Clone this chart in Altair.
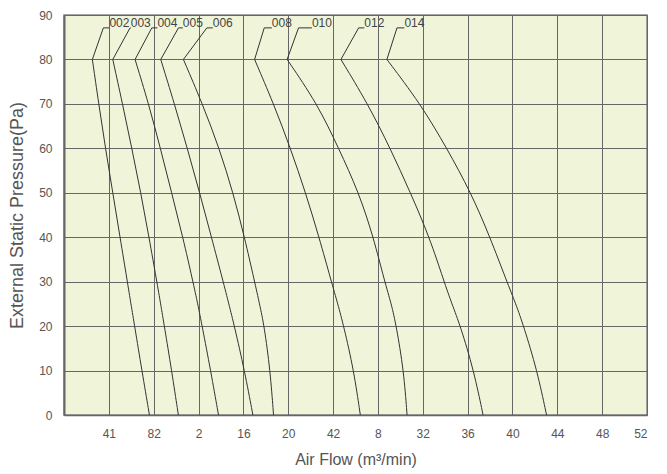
import altair as alt
import pandas as pd

# Model names
models = ["002", "003", "004", "005", "006", "008", "010", "012", "014"]

# Pressure levels (Pa) at which the air flow was read
pressure = [0, 10, 20, 25, 30, 40, 50, 60, 70, 80]

# Air flow (m3/min) per model at each pressure level above
flow = {
    "002": [7.62, 6.95, 6.30, 5.97, 5.65, 5.00, 4.35, 3.70, 3.10, 2.53],
    "003": [10.20, 9.60, 8.95, 8.62, 8.28, 7.58, 6.85, 6.05, 5.22, 4.35],
    "004": [13.78, 13.08, 12.32, 11.93, 11.50, 10.60, 9.60, 8.60, 7.55, 6.34],
    "005": [16.85, 16.10, 15.20, 14.70, 14.20, 13.15, 12.10, 11.00, 9.85, 8.63],
    "006": [18.69, 18.39, 17.86, 17.44, 17.00, 16.10, 15.08, 13.85, 12.35, 10.65],
    "008": [26.43, 25.85, 24.95, 24.42, 23.85, 22.75, 21.55, 20.20, 18.70, 17.00],
    "010": [30.60, 30.30, 29.64, 29.20, 28.60, 27.60, 26.30, 24.50, 22.60, 19.90],
    "012": [37.38, 36.55, 35.36, 34.60, 33.90, 32.60, 30.90, 29.10, 27.10, 24.70],
    "014": [43.04, 42.20, 41.00, 40.30, 39.50, 38.00, 36.30, 34.15, 31.80, 28.80],
}

# Label leader lines: from the 80 Pa point up to the label
leader_top_x = [3.51, 5.89, 7.83, 10.21, 12.74, 17.86, 20.92, 26.28, 29.70]
label_x = [4.05, 5.95, 8.33, 10.60, 13.27, 18.54, 22.11, 26.79, 30.36]
label_y = 87.1

# X axis tick labels (as printed) at 4, 8, ..., 52
x_tick_values = [4, 8, 12, 16, 20, 24, 28, 32, 36, 40, 44, 48, 52]
x_tick_labels = ["41", "82", "2", "16", "20", "42", "8", "32", "36", "40", "44", "48", "52"]

rows = []
for m in models:
    for p, f in zip(pressure, flow[m]):
        rows.append({"model": m, "pressure": p, "flow": f})
curves = pd.DataFrame(rows)

lrows = []
for i, m in enumerate(models):
    pts = [(flow[m][-1], 80), (leader_top_x[i], label_y), (label_x[i], label_y)]
    for k, (fx, py) in enumerate(pts):
        lrows.append({"model": m, "k": k, "flow": fx, "pressure": py})
leaders = pd.DataFrame(lrows)

labels = pd.DataFrame({"model": models, "flow": label_x, "pressure": [label_y] * len(models)})

FONT = "Liberation Sans"
label_arr = "[" + ",".join("'%s'" % s for s in x_tick_labels) + "]"

xscale = alt.Scale(domain=[0, 52], nice=False, zero=False)
yscale = alt.Scale(domain=[0, 90], nice=False)

x_axis = alt.Axis(
    values=x_tick_values,
    labelExpr=label_arr + "[datum.value/4-1]",
    title="Air Flow (m³/min)",
    grid=True, gridColor="#666666", gridWidth=1,
    ticks=False, labelPadding=13, titlePadding=12,
    labelFont=FONT, labelFontSize=12, labelColor="#555555",
    titleFont=FONT, titleFontSize=16, titleFontWeight="normal", titleColor="#555555",
    domainColor="#666666", domainWidth=1.5,
)
y_axis = alt.Axis(
    values=list(range(0, 95, 5)),
    labelExpr="datum.value % 10 == 0 ? datum.label : ''",
    title="External Static Pressure(Pa)",
    grid=True, gridColor="#666666", gridWidth=1,
    ticks=False, labelPadding=12, titlePadding=12,
    labelFont=FONT, labelFontSize=12, labelColor="#555555",
    titleFont=FONT, titleFontSize=18, titleFontWeight="normal", titleColor="#555555",
    domainColor="#666666", domainWidth=2,
)

base_curves = alt.Chart(curves).mark_line(color="#333333", strokeWidth=1, interpolate="basis").encode(
    x=alt.X("flow:Q", scale=xscale, axis=x_axis),
    y=alt.Y("pressure:Q", scale=yscale, axis=y_axis),
    detail="model:N",
    order=alt.Order("pressure:Q"),
)

leader_lines = alt.Chart(leaders).mark_line(color="#333333", strokeWidth=1).encode(
    x=alt.X("flow:Q", scale=xscale),
    y=alt.Y("pressure:Q", scale=yscale),
    detail="model:N",
    order=alt.Order("k:Q"),
)

text = alt.Chart(labels).mark_text(
    align="left", baseline="alphabetic", dy=-1, font=FONT, fontSize=12, color="#444444"
).encode(
    x=alt.X("flow:Q", scale=xscale),
    y=alt.Y("pressure:Q", scale=yscale),
    text="model:N",
)

chart = alt.layer(base_curves, leader_lines, text).properties(
    width=583, height=400,
    autosize=alt.AutoSizeParams(type="none"),
    padding={"left": 56, "top": 7, "right": 12, "bottom": 56},
    background="white",
).configure_view(
    fill="#F0F5DA", stroke="#888888", strokeWidth=1.5
)

chart.save("out.html", embed_options={"renderer": "svg", "actions": False})
